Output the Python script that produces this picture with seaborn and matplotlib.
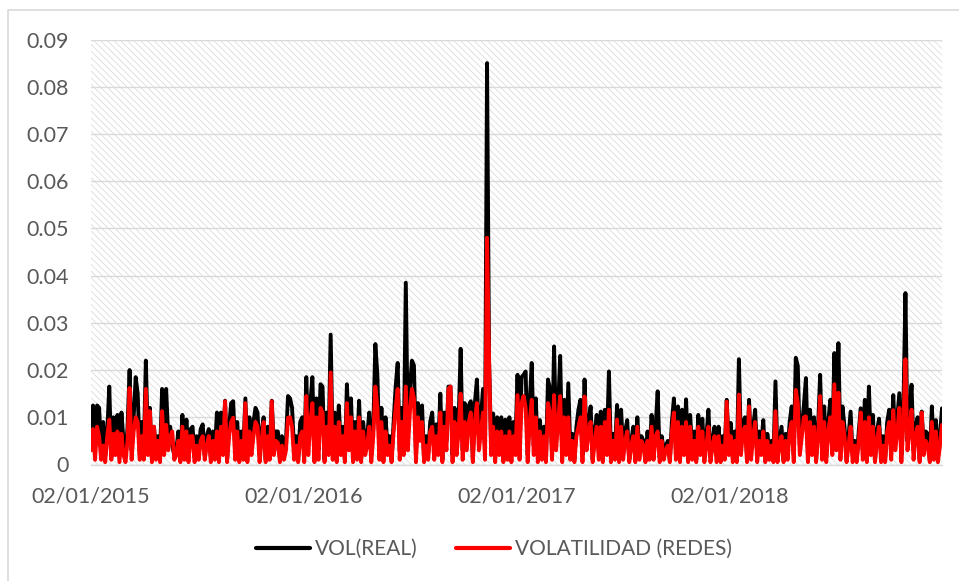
import numpy as np
import pandas as pd
import matplotlib
matplotlib.use("Agg")
import matplotlib.pyplot as plt
import seaborn as sns
from matplotlib.patches import Rectangle
from matplotlib.lines import Line2D

# Daily volatility, in thousandths (0.001 units), one list per year
vol_real_2015 = [
    8, 12.5, 4, 12.5, 12, 3, 9, 2, 7, 16.5,
    1.5, 10, 4, 10.5, 2, 11, 5, 1.5, 8, 20,
    3, 10, 18.5, 15, 2, 9, 3, 22, 5, 12,
    1, 8, 3, 6, 2, 16, 4, 16, 6, 8,
    4, 2, 3, 7, 1.5, 10.5, 3, 9.5, 2, 7.5,
    8, 1.5, 6, 3, 7.5, 8.5, 2, 6, 7.5, 1.5,
    7, 3, 11, 2, 11, 4, 13.5, 1, 8, 13,
    13.4, 3, 9, 1.5, 7, 3, 14, 2, 10, 4,
    9, 12, 11, 2, 7, 10, 1, 8, 3, 13.5,
    4, 7, 7, 1.5, 6, 3, 5, 14.5, 14, 12,
    3, 6, 1, 9, 10,
]
vol_real_2016 = [
    2, 18.5, 5, 13, 18.5, 1, 14, 3, 17, 16.5,
    1, 11, 5, 27.5, 3, 11, 2, 12.5, 4, 8,
    1, 17, 6, 14, 2, 9, 3, 13.5, 1.5, 9,
    4, 6, 11, 2, 8, 25.5, 19, 3, 12, 2,
    10, 4, 6, 1, 9, 16.5, 21.5, 3, 12, 4,
    38.5, 6, 16, 22, 21, 2, 13, 8, 12.5, 1,
    6, 2, 9, 11, 3, 8.5, 4, 15, 1, 11,
    5, 16.5, 16.5, 2, 12, 4, 9, 24.5, 3, 13,
    5, 12.5, 13.4, 1, 13, 18, 6, 10, 16, 3,
    85, 22, 4, 10.8, 2, 10, 4, 10, 1, 9.5,
    3, 10, 2, 9, 5,
]
vol_real_2017 = [
    19, 3, 18.5, 19, 19.7, 2, 13, 21.5, 4, 14,
    2, 9.4, 3, 8, 1, 18, 16, 3, 25, 6,
    12, 23, 2, 13.7, 4, 17.2, 3, 6.5, 1, 8,
    11.6, 13.7, 2, 18, 5, 9, 12.3, 1, 7, 10.5,
    3, 11.2, 2, 11.6, 4, 19.7, 2, 6.5, 3, 12.6,
    1.5, 11.6, 3, 7, 9.4, 1, 5, 8, 2, 10,
    3, 6, 5, 1, 7, 2, 10.5, 3, 8, 15.5,
    1.5, 6, 3, 4, 5, 1, 9, 14, 3, 12.3,
    2, 11.6, 4, 13.8, 1, 10.5, 3, 7, 1, 10.5,
    4, 9.7, 2, 6, 11.6, 1.5, 5, 8, 2, 8,
    1, 6, 3, 13.7, 4,
]
vol_real_2018 = [
    8.8, 2, 7, 1, 22.3, 4, 9, 10, 1.5, 13.7,
    3, 8, 11.6, 2, 7, 4, 9.4, 1, 6.5, 3,
    5, 1, 17.6, 2, 5, 8, 1, 6.5, 3, 9,
    12.3, 2, 22.6, 20.9, 4, 8, 12.6, 18.3, 2, 11.6,
    4, 10, 1, 8, 19, 3, 12.3, 1.5, 9, 13.7,
    4, 23.6, 6, 25.7, 3, 12.3, 8, 1, 6, 11.2,
    2, 5, 1, 7, 11.9, 3, 13.7, 2, 16.5, 4,
    10.5, 1, 7, 9.7, 2, 6, 1, 9, 11.6, 3,
    14.7, 5, 10, 15.1, 2, 12, 36.3, 5, 10, 16.9,
    3, 8, 10, 1, 11.2, 4, 7, 6.5, 1, 12.3,
    3, 9.4, 2, 6, 11.9,
]

vol_redes_2015 = [
    3, 7.5, 1, 8, 6, 1, 4, 0.5, 6, 9.5,
    1, 6.5, 2, 7, 0.5, 6.5, 2, 0.5, 5, 16.2,
    1, 7, 10, 9, 1, 6, 1, 16, 2, 11.3,
    0.5, 8, 1, 5, 0.5, 11.3, 2, 8.4, 3, 6,
    7, 1, 2, 5, 0.5, 8, 1, 7, 0.5, 6,
    6, 0.5, 4, 1, 5, 6, 1, 4, 6, 0.5,
    5, 1, 7, 0.5, 8, 2, 13.4, 0.5, 6, 9,
    9.9, 1, 7, 0.5, 5, 1, 13, 0.5, 7, 2,
    6, 9, 8, 0.5, 5, 9, 0.5, 6, 1, 13.4,
    2, 5, 4.6, 0.5, 4, 1, 3, 9.9, 10, 8,
    1, 4, 0.5, 6, 7,
]
vol_redes_2016 = [
    0.5, 14.5, 2, 9, 13, 0.5, 10, 1, 12, 11,
    0.5, 8, 2, 19.5, 1, 8, 0.5, 9, 2, 6,
    0.5, 13, 3, 10, 0.5, 7, 1, 10, 0.5, 7,
    2, 4, 8, 0.5, 6, 16.5, 12, 1, 9, 0.5,
    7, 2, 4, 0.5, 7, 12, 16, 1, 9, 2,
    16.5, 3, 11, 16, 14, 0.5, 10, 5, 9, 0.5,
    4, 1, 7, 8, 1, 6, 2, 11, 0.5, 8,
    3, 16, 16.5, 0.5, 9, 2, 7, 15, 1, 9,
    3, 9, 11, 0.5, 9, 13, 3, 7, 11, 1,
    48, 22, 2, 8, 0.5, 7, 2, 7, 0.5, 6,
    1, 7, 0.5, 6, 2,
]
vol_redes_2017 = [
    14.7, 1, 13, 14.5, 12, 0.5, 9, 13.7, 2, 10,
    0.5, 7, 1, 6, 0.5, 13, 11, 1, 14.7, 3,
    9, 14.5, 0.5, 10, 2, 10, 1, 5, 0.5, 6,
    8, 10, 0.5, 14.4, 3, 7, 9, 0.5, 5, 8,
    1, 8, 0.5, 9, 2, 11.6, 0.5, 5, 1, 9.5,
    0.5, 8, 1, 5, 7, 0.5, 4, 6, 0.5, 8,
    1, 5, 4, 0.5, 5, 1, 8, 1, 6, 7,
    0.5, 5, 1, 3, 4, 0.5, 7, 11, 1, 9,
    0.5, 8, 2, 9, 0.5, 8, 1, 5, 0.5, 8,
    2, 7, 0.5, 4, 8, 0.5, 4, 6, 0.5, 6,
    0.5, 4, 1, 13.3, 2,
]
vol_redes_2018 = [
    6, 0.5, 5, 0.5, 14.8, 2, 7, 8, 0.5, 12.3,
    1, 6, 9, 0.5, 5, 2, 7, 0.5, 5, 1,
    4, 0.5, 11.3, 0.5, 4, 6, 0.5, 5, 1, 7,
    9, 0.5, 15.8, 13, 2, 6, 10, 10.2, 0.5, 9,
    2, 8, 0.5, 6, 14.5, 1, 9, 0.5, 7, 10,
    2, 17, 3, 15.2, 1, 9, 6, 0.5, 4, 8,
    0.5, 4, 0.5, 5, 11, 1, 9, 0.5, 10, 2,
    8, 0.5, 5, 8, 0.5, 4, 0.5, 7, 9, 1,
    11.5, 3, 7, 12, 0.5, 9, 22.3, 3, 7, 11.6,
    1, 6, 8, 0.5, 11, 2, 5, 4, 0.5, 9,
    1, 7, 0.5, 4, 8.4,
]

series_names = ["VOL(REAL)", "VOLATILIDAD (REDES)"]
series_colors = ["#000000", "#ff0000"]
tick_dates = ["2015-01-02", "2016-01-02", "2017-01-02", "2018-01-02"]
tick_labels = ["02/01/2015", "02/01/2016", "02/01/2017", "02/01/2018"]
y_ticks = [0, 0.01, 0.02, 0.03, 0.04, 0.05, 0.06, 0.07, 0.08, 0.09]
y_labels = ["0", "0.01", "0.02", "0.03", "0.04", "0.05", "0.06", "0.07", "0.08", "0.09"]

start, end = pd.Timestamp("2015-01-02"), pd.Timestamp("2019-01-02")

vol_real = np.array(vol_real_2015 + vol_real_2016 + vol_real_2017 + vol_real_2018) / 1000.0
vol_redes = np.array(vol_redes_2015 + vol_redes_2016 + vol_redes_2017 + vol_redes_2018) / 1000.0

frames = []
for name, values in zip(series_names, [vol_real, vol_redes]):
    fechas = pd.date_range(start, end, periods=len(values))
    frames.append(pd.DataFrame({"fecha": fechas, "valor": values, "serie": name}))
df = pd.concat(frames, ignore_index=True)

sns.set_theme(style="white")
plt.rcParams["font.family"] = ["Lato", "DejaVu Sans"]
plt.rcParams["hatch.linewidth"] = 0.5
plt.rcParams["hatch.color"] = "#d6d6d6"

text_color = "#595959"
grid_color = "#d9d9d9"

fig = plt.figure(figsize=(9.59, 5.81), dpi=100)
ax = fig.add_axes([91 / 959, 116.5 / 581, 851 / 959, 425 / 581])

# diagonal hatched plot background
ax.add_patch(Rectangle((0, 0), 1, 1, transform=ax.transAxes, facecolor="white",
                       edgecolor="#d6d6d6", hatch="\\\\\\\\\\", linewidth=0, zorder=0))

sns.lineplot(data=df, x="fecha", y="valor", hue="serie", hue_order=series_names,
             palette=dict(zip(series_names, series_colors)), estimator=None,
             linewidth=2.8, legend=False, ax=ax, zorder=3,
             solid_joinstyle="round", solid_capstyle="round")

ax.set_xlim(start, end)
ax.set_ylim(0, 0.09)
ax.set_yticks(y_ticks)
ax.set_yticklabels(y_labels)
ax.set_xticks(pd.to_datetime(tick_dates))
ax.set_xticklabels(tick_labels)
ax.set_xlabel("")
ax.set_ylabel("")

ax.set_axisbelow(True)
ax.grid(axis="y", color=grid_color, linewidth=1.0)
ax.grid(axis="x", visible=False)
for side in ["left", "right", "top"]:
    ax.spines[side].set_visible(False)
ax.spines["bottom"].set_color(grid_color)
ax.spines["bottom"].set_linewidth(1.0)

ax.tick_params(axis="x", length=5, width=1, color="#bfbfbf", pad=11,
               labelsize=15.5, labelcolor=text_color)
ax.tick_params(axis="y", length=0, pad=16, labelsize=15.5, labelcolor=text_color)

handles = [Line2D([0], [0], color=c, linewidth=3.0) for c in series_colors]
fig.legend(handles, series_names, loc="center", bbox_to_anchor=(0.515, 0.055),
           ncol=2, frameon=False, fontsize=15, handlelength=2.6,
           handletextpad=0.25, columnspacing=1.8, labelcolor=text_color)

# chart border
fig.add_artist(Line2D([8 / 959, 8 / 959, 1.0], [0.0, 1 - 10 / 581, 1 - 10 / 581],
                      transform=fig.transFigure, color=grid_color, linewidth=1.2))

fig.savefig("out.png", dpi=100)
